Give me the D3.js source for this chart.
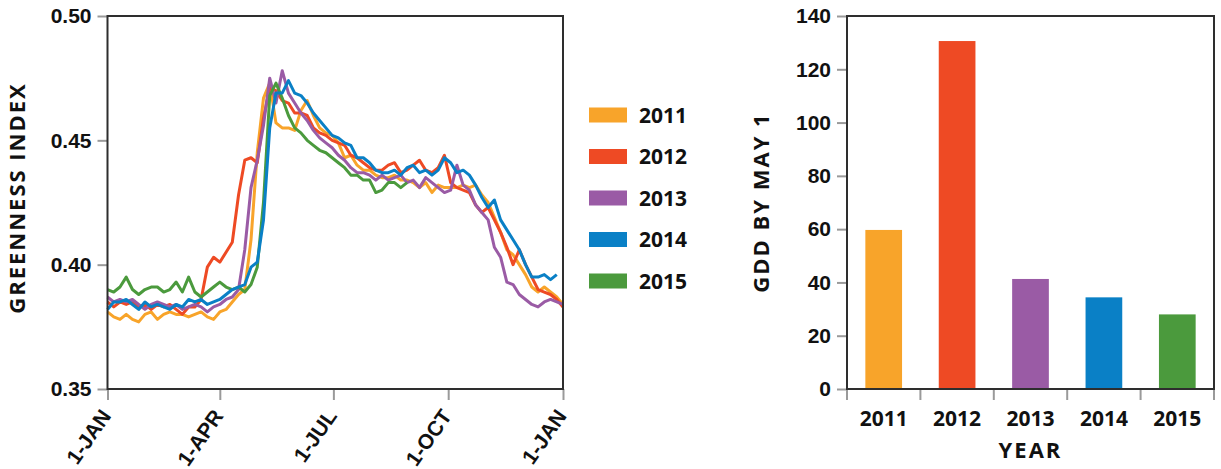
<!DOCTYPE html>
<html>
<head>
<meta charset="utf-8">
<script src="https://cdn.jsdelivr.net/npm/d3@7"></script>
<style>
    body { margin: 0; background: #fff; }
    svg { display: block; font-family: 'Open Sans', sans-serif; }
    .axis text { font-size: 21px; font-weight: 700; fill: #111; }
    .axis line { stroke: #9a9a9a; stroke-width: 2; }
    .axis .domain { display: none; }
    .frame { fill: none; stroke: #2e2e2e; stroke-width: 2; }
    .title { font-size: 22px; font-weight: 700; letter-spacing: 2px; fill: #111; }
    .legend text { font-size: 21px; font-weight: 700; fill: #111; }
</style>
</head>
<body>
<svg id="vis" width="1221" height="469"></svg>
<script>
'use strict';

//series info
var years = ['2011', '2012', '2013', '2014', '2015'];
var colors = ['#f8a42a', '#ee4a24', '#9a5ba5', '#0a80c6', '#4b9a3d'];

//greenness index, one value every 5 days from 1-Jan
var dayStep = 5;
var green2011 = [0.381, 0.379, 0.378, 0.380, 0.378, 0.377, 0.380, 0.381, 0.378, 0.380,
    0.381, 0.380, 0.380, 0.379, 0.380, 0.381, 0.379, 0.378, 0.381, 0.382,
    0.385, 0.388, 0.390, 0.410, 0.445, 0.467, 0.473, 0.457, 0.455, 0.455,
    0.454, 0.462, 0.466, 0.460, 0.455, 0.453, 0.452, 0.449, 0.443, 0.444,
    0.440, 0.438, 0.438, 0.436, 0.435, 0.435, 0.436, 0.434, 0.434, 0.433,
    0.431, 0.433, 0.429, 0.432, 0.431, 0.431, 0.431, 0.432, 0.431, 0.432,
    0.428, 0.425, 0.419, 0.413, 0.406, 0.404, 0.400, 0.396, 0.391, 0.389,
    0.391, 0.389, 0.387, 0.384];
var green2012 = [0.385, 0.383, 0.385, 0.384, 0.385, 0.383, 0.384, 0.382, 0.384, 0.383,
    0.384, 0.382, 0.380, 0.383, 0.383, 0.386, 0.399, 0.403, 0.401, 0.405,
    0.409, 0.428, 0.442, 0.443, 0.441, 0.459, 0.471, 0.470, 0.466, 0.465,
    0.461, 0.461, 0.460, 0.455, 0.453, 0.452, 0.450, 0.449, 0.448, 0.444,
    0.443, 0.441, 0.439, 0.438, 0.438, 0.440, 0.441, 0.437, 0.438, 0.440,
    0.442, 0.438, 0.437, 0.439, 0.444, 0.433, 0.431, 0.430, 0.429, 0.424,
    0.421, 0.423, 0.418, 0.413, 0.407, 0.400, 0.406, 0.400, 0.395, 0.390,
    0.389, 0.388, 0.386, 0.383];
var green2013 = [0.387, 0.385, 0.386, 0.385, 0.386, 0.384, 0.382, 0.384, 0.385, 0.384,
    0.383, 0.384, 0.382, 0.383, 0.384, 0.383, 0.381, 0.383, 0.384, 0.386,
    0.387, 0.390, 0.406, 0.431, 0.442, 0.456, 0.475, 0.465, 0.478, 0.469,
    0.465, 0.461, 0.458, 0.454, 0.451, 0.449, 0.447, 0.444, 0.442, 0.439,
    0.437, 0.437, 0.436, 0.434, 0.436, 0.434, 0.435, 0.436, 0.433, 0.434,
    0.431, 0.435, 0.433, 0.431, 0.429, 0.430, 0.440, 0.432, 0.430, 0.424,
    0.421, 0.418, 0.407, 0.403, 0.393, 0.392, 0.388, 0.386, 0.384, 0.383,
    0.385, 0.386, 0.385, 0.384];
var green2014 = [0.382, 0.385, 0.385, 0.386, 0.384, 0.382, 0.385, 0.383, 0.384, 0.383,
    0.382, 0.384, 0.383, 0.386, 0.385, 0.386, 0.384, 0.385, 0.386, 0.388,
    0.390, 0.391, 0.392, 0.399, 0.401, 0.418, 0.455, 0.469, 0.469, 0.474,
    0.469, 0.468, 0.465, 0.461, 0.458, 0.455, 0.452, 0.451, 0.449, 0.448,
    0.443, 0.443, 0.441, 0.438, 0.437, 0.437, 0.438, 0.436, 0.439, 0.440,
    0.437, 0.438, 0.436, 0.438, 0.443, 0.441, 0.437, 0.438, 0.436, 0.432,
    0.427, 0.423, 0.426, 0.418, 0.414, 0.410, 0.406, 0.400, 0.395, 0.395,
    0.396, 0.394, 0.396];
var green2015 = [0.390, 0.389, 0.391, 0.395, 0.390, 0.388, 0.390, 0.391, 0.391, 0.389,
    0.390, 0.393, 0.389, 0.395, 0.389, 0.387, 0.389, 0.391, 0.393, 0.391,
    0.390, 0.391, 0.389, 0.392, 0.399, 0.425, 0.468, 0.473, 0.467, 0.460,
    0.455, 0.453, 0.450, 0.448, 0.446, 0.445, 0.443, 0.441, 0.439, 0.436,
    0.436, 0.434, 0.434, 0.429, 0.430, 0.433, 0.433, 0.431, 0.433];
var greenSeries = [green2011, green2012, green2013, green2014, green2015];
var drawOrder = [0, 1, 2, 4, 3];

//axis ticks
var greenTicks = [0.35, 0.40, 0.45, 0.50];
var dateTicks = [[0, 1], [3, 1], [6, 1], [9, 1], [12, 1]];
var monthNames = ['JAN', 'FEB', 'MAR', 'APR', 'MAY', 'JUN', 'JUL', 'AUG', 'SEP', 'OCT', 'NOV', 'DEC'];

//growing degree days by May 1
var gdd = [59.7, 130.6, 41.3, 34.4, 28.0];
var gddTicks = [0, 20, 40, 60, 80, 100, 120, 140];

var svg = d3.select('#vis');

//layout
var left = { x0: 107.5, x1: 563, y0: 16, y1: 389 };
var right = { x0: 847, x1: 1214, y0: 16, y1: 389 };

//----- line chart -----
var start = new Date(2011, 0, 1);
var x = d3.scaleTime()
    .domain([start, new Date(2012, 0, 1)])
    .range([left.x0, left.x1]);
var y = d3.scaleLinear().domain([0.35, 0.50]).range([left.y1, left.y0]);

var line = d3.line()
    .x(function (d, i) { return x(d3.timeDay.offset(start, i * dayStep)); })
    .y(function (d) { return y(d); });

var lineG = svg.append('g');
drawOrder.forEach(function (k) {
    lineG.append('path')
        .datum(greenSeries[k])
        .attr('d', line)
        .attr('fill', 'none')
        .attr('stroke', colors[k])
        .attr('stroke-width', 3)
        .attr('stroke-linejoin', 'round');
});

svg.append('g')
    .attr('class', 'axis')
    .attr('transform', 'translate(' + left.x0 + ',0)')
    .call(d3.axisLeft(y).tickValues(greenTicks).tickFormat(d3.format('.2f'))
        .tickSize(10).tickPadding(6));

var xAxis = svg.append('g')
    .attr('class', 'axis')
    .attr('transform', 'translate(0,' + left.y1 + ')')
    .call(d3.axisBottom(x)
        .tickValues(dateTicks.map(function (d) { return new Date(2011, d[0], d[1]); }))
        .tickFormat(function (d) { return d.getDate() + '-' + monthNames[d.getMonth()]; })
        .tickSize(11));
xAxis.selectAll('text')
    .attr('text-anchor', 'end')
    .attr('dy', null)
    .attr('y', 0)
    .attr('transform', 'translate(4,27) rotate(-55)');

svg.append('rect')
    .attr('class', 'frame')
    .attr('x', left.x0).attr('y', left.y0)
    .attr('width', left.x1 - left.x0).attr('height', left.y1 - left.y0);

svg.append('text')
    .attr('class', 'title')
    .attr('text-anchor', 'middle')
    .attr('transform', 'translate(25,198) rotate(-90)')
    .text('GREENNESS INDEX');

//legend
var legend = svg.append('g').attr('class', 'legend');
var legendY = d3.scalePoint().domain(years).range([115, 281]);
years.forEach(function (yr, i) {
    legend.append('rect')
        .attr('x', 589).attr('y', legendY(yr) - 7.5)
        .attr('width', 38).attr('height', 15)
        .attr('fill', colors[i]);
    legend.append('text')
        .attr('x', 639).attr('y', legendY(yr))
        .attr('dy', '0.36em')
        .text(yr);
});

//----- bar chart -----
var xb = d3.scaleBand().domain(years).range([right.x0, right.x1])
    .paddingInner(0.5).paddingOuter(0.25);
var yb = d3.scaleLinear().domain([0, 140]).range([right.y1, right.y0]);

svg.append('g').selectAll('rect')
    .data(gdd)
    .enter()
    .append('rect')
    .attr('x', function (d, i) { return xb(years[i]); })
    .attr('y', function (d) { return yb(d); })
    .attr('width', xb.bandwidth())
    .attr('height', function (d) { return yb(0) - yb(d); })
    .attr('fill', function (d, i) { return colors[i]; });

svg.append('g')
    .attr('class', 'axis')
    .attr('transform', 'translate(' + right.x0 + ',0)')
    .call(d3.axisLeft(yb).tickValues(gddTicks).tickSize(10).tickPadding(6));

//x ticks sit between the bars
var bandEdges = years.map(function (yr) { return xb(yr) - xb.step() * xb.paddingInner() / 2; })
    .concat([right.x1]);
bandEdges[0] = right.x0;
var xbAxis = svg.append('g').attr('class', 'axis')
    .attr('transform', 'translate(0,' + right.y1 + ')');
xbAxis.selectAll('line')
    .data(bandEdges)
    .enter()
    .append('line')
    .attr('x1', function (d) { return d; })
    .attr('x2', function (d) { return d; })
    .attr('y2', 11);
xbAxis.selectAll('text')
    .data(years)
    .enter()
    .append('text')
    .attr('x', function (d) { return xb(d) + xb.bandwidth() / 2; })
    .attr('y', 37)
    .attr('text-anchor', 'middle')
    .text(function (d) { return d; });

svg.append('rect')
    .attr('class', 'frame')
    .attr('x', right.x0).attr('y', right.y0)
    .attr('width', right.x1 - right.x0).attr('height', right.y1 - right.y0);

svg.append('text')
    .attr('class', 'title')
    .attr('text-anchor', 'middle')
    .attr('transform', 'translate(769,' + (right.y0 + right.y1) / 2 + ') rotate(-90)')
    .text('GDD BY MAY 1');

svg.append('text')
    .attr('class', 'title')
    .attr('text-anchor', 'middle')
    .attr('x', (right.x0 + right.x1) / 2)
    .attr('y', 458)
    .text('YEAR');
</script>
</body>
</html>
